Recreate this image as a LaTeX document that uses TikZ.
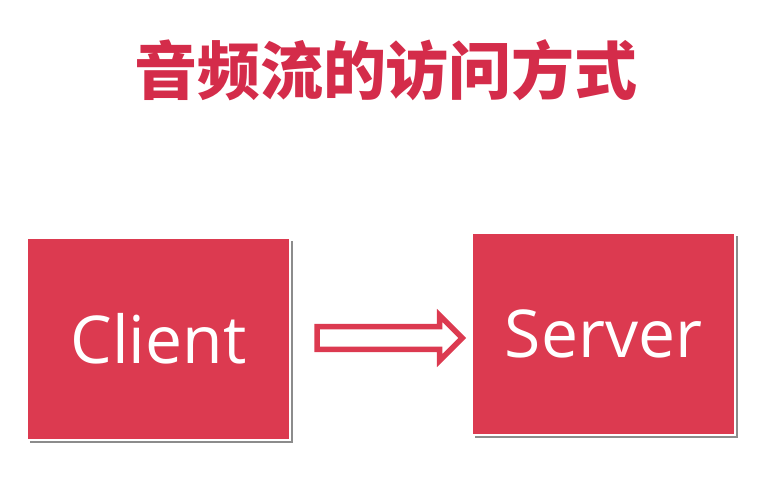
\documentclass[tikz,border=0pt]{standalone}
\usepackage{fontspec}
\setsansfont{Open Sans}
\newfontfamily\cjk{Noto Sans CJK SC}
\usetikzlibrary{positioning,shapes.arrows,shadows}
\definecolor{boxred}{HTML}{DC3A50}
\definecolor{titlered}{HTML}{D42C4A}

\begin{document}
\begin{tikzpicture}[
  x=1pt, y=-1pt,
  node distance=21pt,
  box/.style={draw=white, line width=2pt, fill=boxred, minimum width=263pt,
              minimum height=202pt, inner sep=0pt, text=white,
              font=\sffamily\fontsize{66}{66}\selectfont,
              drop shadow={shadow xshift=3pt, shadow yshift=-3pt,
                           fill=black, opacity=0.45}},
  hollow/.style={single arrow, draw=boxred, line width=5.5pt, fill=white,
                 minimum height=145pt, minimum width=45pt,
                 single arrow head extend=11pt, single arrow tip angle=90,
                 inner sep=0pt, text height=17pt, text depth=0pt}
]
\useasboundingbox (0,0) rectangle (769,481);
\node[font=\cjk\bfseries\fontsize{63}{63}\selectfont, text=titlered]
  (title) at (386,70) {音频流的访问方式};
\node[box] (client) at (158.5,339) {Client};
\node[box] (server) at (603.5,334) {Server};
\node[hollow] (arr) at (384,338) {};
\end{tikzpicture}
\end{document}
